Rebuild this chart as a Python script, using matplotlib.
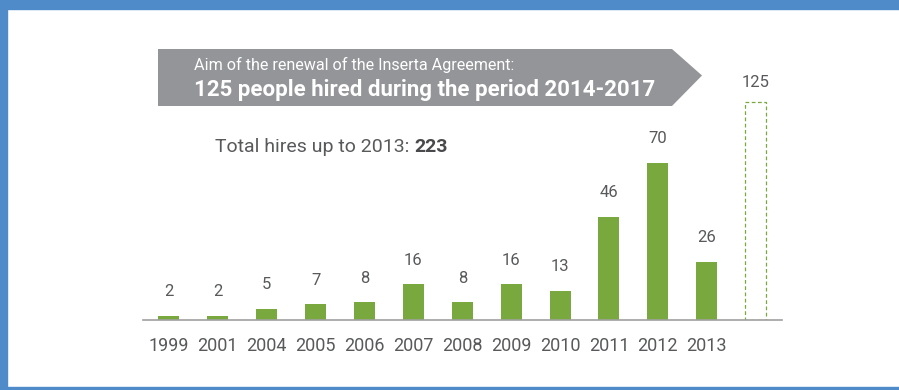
import matplotlib
matplotlib.use('Agg')
import matplotlib.pyplot as plt
from matplotlib.patches import Polygon, Rectangle

# datos del grafico
years = ['1999', '2001', '2004', '2005', '2006', '2007', '2008', '2009', '2010', '2011', '2012', '2013']
hires = [2, 2, 5, 7, 8, 16, 8, 16, 13, 46, 70, 26]
target_label = '125'
target_value = 125
total_hires = 223
banner_line1 = 'Aim of the renewal of the Inserta Agreement:'
banner_line2 = '125 people hired during the period 2014-2017'

W, H = 899, 390
green = '#78a83e'
grey_txt = '#58595b'
blue = '#4f8bc9'
plt.rcParams['font.family'] = ['Roboto', 'DejaVu Sans']

fig = plt.figure(figsize=(W / 100, H / 100), dpi=100)
fig.patch.set_facecolor('white')


def fx(px):
    return px / W


def fy(py):
    # py medido desde arriba
    return 1 - py / H


# marco azul
fig.patches.append(Rectangle((0, fy(9)), 1, 9 / H, transform=fig.transFigure, color=blue, zorder=0))
fig.patches.append(Rectangle((0, 0), fx(7), 1, transform=fig.transFigure, color=blue, zorder=0))
fig.patches.append(Rectangle((0, 0), 1, 3 / H, transform=fig.transFigure, color=blue, zorder=0))

# ejes: linea base en y=320 px, de x=143 a x=782
ax = fig.add_axes([fx(143), fy(320), fx(782 - 143), (320 - 39) / H])
ax.set_xlim(-0.53, 12.54)
ax.set_ylim(0, 125)

x = list(range(len(years)))
ax.bar(x, hires, width=0.43, color=green, zorder=2)
for xi, v in zip(x, hires):
    ax.annotate(str(v), (xi, v), xytext=(0, 14), textcoords='offset points',
                ha='center', va='baseline', fontsize=12, color=grey_txt)

# barra objetivo (truncada visualmente)
target_x = len(years)
target_drawn = min(target_value, 97)
ax.bar([target_x], [target_drawn], width=0.43, facecolor='none', edgecolor=green,
       linestyle=(0, (3, 2)), linewidth=0.9, zorder=2)
ax.annotate(target_label, (target_x, target_drawn), xytext=(0, 11), textcoords='offset points',
            ha='center', va='baseline', fontsize=12, color=grey_txt)

ax.set_xticks(x)
ax.set_xticklabels(years, fontsize=13, color=grey_txt)
ax.tick_params(axis='x', length=0, pad=12)
ax.set_yticks([])
for s in ['top', 'right', 'left']:
    ax.spines[s].set_visible(False)
ax.spines['bottom'].set_color('#a0a0a0')
ax.spines['bottom'].set_linewidth(1.2)
ax.patch.set_alpha(0)

# banner gris con flecha
pts = [(158, 49), (672, 49), (702, 75.5), (672, 106), (158, 106)]
banner = Polygon([(fx(a), fy(b)) for a, b in pts], closed=True, transform=fig.transFigure,
                 facecolor='#939598', edgecolor='none')
fig.patches.append(banner)
fig.text(fx(194), fy(70), banner_line1, fontsize=11.6, color='white', va='baseline')
fig.text(fx(194), fy(96), banner_line2, fontsize=16, color='white', va='baseline', fontweight='bold')

# total
t = fig.text(fx(215), fy(152), 'Total hires up to 2013: ', fontsize=14, color=grey_txt, va='baseline')
bb = t.get_window_extent(renderer=fig.canvas.get_renderer())
fig.text(bb.x1 / W, fy(152), str(total_hires), fontsize=14, color='#4a4a4c', va='baseline',
         fontweight='bold')

fig.savefig('out.png', dpi=100)
